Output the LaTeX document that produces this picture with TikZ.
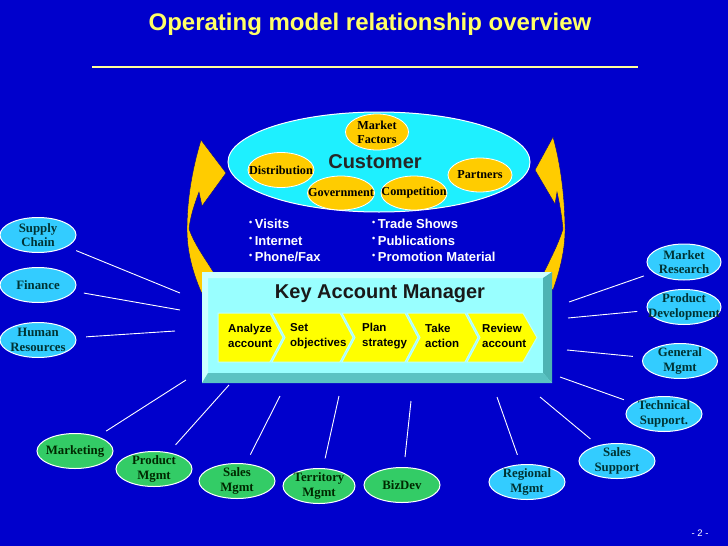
\documentclass[tikz,border=0pt]{standalone}
\usepackage{fontspec}
\setmainfont{Liberation Serif}
\newfontfamily\arialf{Liberation Sans}
\usetikzlibrary{shapes.geometric}
\definecolor{bgblue}{RGB}{0,0,204}
\definecolor{titleyellow}{RGB}{255,255,102}
\definecolor{lineyellow}{RGB}{255,255,153}
\definecolor{custcyan}{RGB}{30,240,255}
\definecolor{orange1}{RGB}{255,204,0}
\definecolor{sidecyan}{RGB}{51,204,255}
\definecolor{ellgreen}{RGB}{51,204,102}
\definecolor{darkteal}{RGB}{0,51,51}
\definecolor{darkgreen}{RGB}{0,40,0}
\definecolor{kamface}{RGB}{153,255,255}
\definecolor{kamlight}{RGB}{204,255,255}
\definecolor{kamright}{RGB}{77,179,179}
\definecolor{kambottom}{RGB}{90,195,195}
\definecolor{chevyellow}{RGB}{255,255,0}
\definecolor{chevedge}{RGB}{190,255,255}
\newcommand{\kambul}{{\fontsize{9}{9}\selectfont\raisebox{0.7ex}{•}}\hspace{2.5pt}}
\begin{document}
\begin{tikzpicture}[x=1pt,y=-1pt,
  conn/.style={draw=white, line width=0.9pt, shorten <=10pt},
  sidetxt/.style={inner sep=0pt, align=center, font=\bfseries\fontsize{12.8}{14.5}\selectfont, text=darkteal},
  greentxt/.style={sidetxt, text=darkgreen},
  ortxt/.style={inner sep=0pt, align=center, font=\bfseries\fontsize{12.2}{14}\selectfont, text=black},
  sideell/.style={ellipse, draw=white, line width=1pt, fill=sidecyan, minimum width=76pt, minimum height=35pt, inner sep=0pt, label={[sidetxt]center:#1}},
  greenell/.style={ellipse, draw=white, line width=1pt, fill=ellgreen, minimum width=76pt, minimum height=35pt, inner sep=0pt, label={[greentxt]center:#1}},
  orell/.style={ellipse, draw=white, line width=0.8pt, fill=orange1, minimum width=65pt, minimum height=34pt, inner sep=0pt, label={[ortxt]center:#1}},
  chevtext/.style={anchor=west, align=left, font=\arialf\bfseries\fontsize{11.5}{15}\selectfont, inner sep=0pt, text=black},
  bullettext/.style={anchor=north west, align=left, font=\arialf\bfseries\fontsize{13}{16.5}\selectfont, text=white, inner sep=0pt},
  chev/.style={fill=chevyellow, draw=chevedge, line width=1pt, line join=miter},
  crescent/.style={fill=orange1, draw=bgblue!70!black, line width=0.4pt}
]
\useasboundingbox (0,0) rectangle (728,546);
\fill[bgblue] (0,0) rectangle (728,546);

% title
\node[font=\arialf\bfseries\fontsize{24}{28}\selectfont, text=titleyellow] (title) at (370,24) {Operating model relationship overview};
\draw[lineyellow, line width=2pt] (92,67) -- (638,67);

% crescent arrows
\path[crescent] (201,140) -- (226,173) -- (202,206) -- (199,192)
  .. controls (194,205) and (190,218) .. (189,229)
  .. controls (196,248) and (208,262) .. (218,280) -- (205,300)
  .. controls (195,280) and (187,255) .. (187,230)
  .. controls (187,200) and (192,170) .. (201,140) -- cycle;
\path[crescent] (553,137) -- (535,170) -- (555,204) -- (557,192)
  .. controls (560,205) and (562,218) .. (563,229)
  .. controls (558,245) and (550,260) .. (540,280) -- (553,290)
  .. controls (560,270) and (565,250) .. (565,230)
  .. controls (565,200) and (561,165) .. (553,137) -- cycle;

% customer
\node[ellipse, draw=white, line width=1pt, fill=custcyan, minimum width=302pt, minimum height=100pt, inner sep=0pt] (cust) at (379,162) {};
\node[font=\arialf\bfseries\fontsize{20}{24}\selectfont, text=black!85] (custlabel) at (375,162) {Customer};
\node[orell={Market\\Factors}, minimum width=63pt, minimum height=36pt] (mf) at (377,132) {};
\node[orell={Distribution}, minimum width=66pt, minimum height=35pt] (dist) at (281,170) {};
\node[orell={Government}, minimum width=67pt, minimum height=34pt] (gov) at (341,193) {};
\node[orell={Competition}, minimum width=66pt, minimum height=34pt] (comp) at (414,193) {};
\node[orell={Partners}, minimum width=64pt, minimum height=34pt] (part) at (480,175) {};

% bullets
\node[bullettext] (b1) at (249,219) {\kambul Visits\\\kambul Internet\\\kambul Phone/Fax};
\node[bullettext] (b2) at (372,219) {\kambul Trade Shows\\\kambul Publications\\\kambul Promotion Material};

% KAM box
\fill[kamface] (202,272) rectangle (552,383);
\fill[kamlight] (202,272) -- (552,272) -- (543,278) -- (208,278) -- (208,373) -- (202,383) -- cycle;
\fill[kamright] (552,272) -- (552,383) -- (543,373) -- (543,278) -- cycle;
\fill[kambottom] (202,383) -- (552,383) -- (543,373) -- (208,373) -- cycle;
\node[font=\arialf\bfseries\fontsize{20}{24}\selectfont, text=black!90] (kam) at (380,294) {Key Account Manager};

% chevrons
\path[chev] (218,313) -- (270,313) -- (283,337.5) -- (270,362) -- (218,362) -- cycle;
\path[chev] (272,313) -- (340,313) -- (353,337.5) -- (340,362) -- (272,362) -- (285,337.5) -- cycle;
\path[chev] (342,313) -- (405,313) -- (418,337.5) -- (405,362) -- (342,362) -- (355,337.5) -- cycle;
\path[chev] (407,313) -- (465,313) -- (478,337.5) -- (465,362) -- (407,362) -- (420,337.5) -- cycle;
\path[chev] (467,313) -- (523,313) -- (537,337.5) -- (523,362) -- (467,362) -- (480,337.5) -- cycle;
\node[chevtext] (c1) at (228,336) {Analyze\\account};
\node[chevtext] (c2) at (290,336) {Set\\objectives};
\node[chevtext] (c3) at (362,336) {Plan\\strategy};
\node[chevtext] (c4) at (425,336) {Take\\action};
\node[chevtext] (c5) at (482,336) {Review\\account};

% inner ends of connectors
\coordinate (sc-in) at (180,293);
\coordinate (fin-in) at (180,310);
\coordinate (hr-in) at (175,331);
\coordinate (mr-in) at (569,302);
\coordinate (pd-in) at (568,318);
\coordinate (gm-in) at (567,350);
\coordinate (ts-in) at (560,377);
\coordinate (ss-in) at (540,397);
\coordinate (rm-in) at (497,397);
\coordinate (bd-in) at (411,401);
\coordinate (tm-in) at (339,396);
\coordinate (sm-in) at (280,396);
\coordinate (pm-in) at (229,385);
\coordinate (mk-in) at (186,380);

% side ellipses
\node[sideell={Supply\\Chain}] (sc) at (38,235) {};
\node[sideell={Finance}] (fin) at (38,285) {};
\node[sideell={Human\\Resources}] (hr) at (38,340) {};
\node[sideell={Market\\Research}, minimum width=74pt, minimum height=36pt] (mr) at (684,262) {};
\node[sideell={Product\\Development}, minimum width=74pt] (pd) at (684,307) {};
\node[sideell={General\\Mgmt}, minimum width=75pt] (gm) at (680,361) {};
\node[sideell={Technical\\Support.}] (ts) at (664,414) {};
\node[sideell={Sales\\Support}] (ss) at (617,461) {};
\node[sideell={Regional\\Mgmt}] (rm) at (527,482) {};
\node[greenell={BizDev}] (bd) at (402,485) {};
\node[greenell={Territory\\Mgmt}, minimum width=72pt] (tm) at (319,486) {};
\node[greenell={Sales\\Mgmt}] (sm) at (237,481) {};
\node[greenell={Product\\Mgmt}] (pm) at (154,469) {};
\node[greenell={Marketing}] (mk) at (75,451) {};

% connectors
\foreach \n in {sc,fin,hr,mr,pd,gm,ts,ss,rm,bd,tm,sm,pm,mk}
  \draw[conn] (\n) -- (\n-in);

% page number
\node[font=\arialf\fontsize{9.5}{10}\selectfont, text=white] (pg) at (700,533) {- 2 -};
\end{tikzpicture}
\end{document}
